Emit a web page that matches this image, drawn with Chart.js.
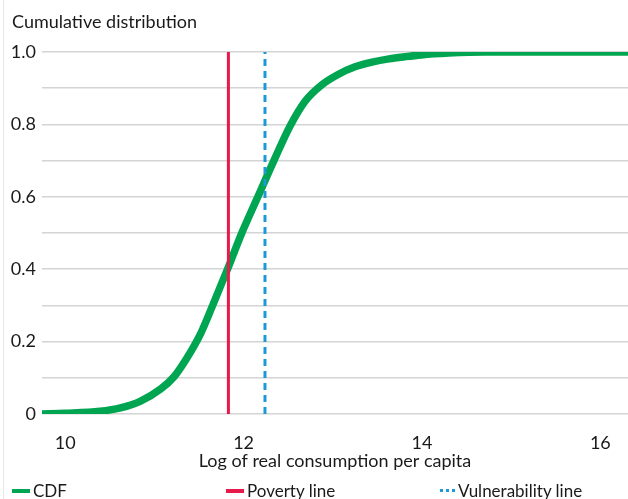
<!DOCTYPE html>
<html>
<head>
<meta charset="utf-8">
<script src="https://cdn.jsdelivr.net/npm/chart.js@4.4.0/dist/chart.umd.min.js"></script>
<style>
  html, body { margin: 0; padding: 0; background: #fff; }
  #wrap { position: relative; width: 628px; height: 499px; overflow: hidden; font-family: Lato, sans-serif; color: #1a1a1a; }
  #edge { position: absolute; left: 3px; top: 0; width: 1px; height: 499px; background: #e3ece3; }
  #title { position: absolute; left: 12px; top: 10px; font-size: 18px; }
  canvas { position: absolute; left: 0; top: 0; }
  .leg { position: absolute; top: 480px; font-size: 17px; display: flex; align-items: center; white-space: nowrap; }
  .mk { display: inline-block; height: 0; margin-right: 3px; }
</style>
</head>
<body>
<div id="wrap">
  <div id="edge"></div>
  <canvas id="c" width="628" height="499"></canvas>
  <div id="title">Cumulative distribution</div>
  <div id="legend"></div>
</div>
<script>
// ---- data ----
const cdfX = [9.74, 10.0, 10.39, 10.62, 10.84, 11.07, 11.22, 11.37, 11.52, 11.65, 11.82, 11.98, 12.16, 12.34, 12.52, 12.69, 12.88, 13.06, 13.25, 13.44, 13.63, 13.81, 13.99, 14.3, 14.7, 16.31];
const cdfY = [0.0, 0.002, 0.0075, 0.017, 0.035, 0.069, 0.103, 0.157, 0.223, 0.298, 0.40, 0.50, 0.60, 0.70, 0.795, 0.864, 0.91, 0.938, 0.959, 0.972, 0.981, 0.987, 0.992, 0.997, 1.0, 1.0];
const povertyLine = 11.83;
const vulnerabilityLine = 12.24;
const xTicks = [10, 12, 14, 16];
const yTickLabels = ['0', '0.2', '0.4', '0.6', '0.8', '1.0'];
const seriesLabels = ['CDF', 'Poverty line', 'Vulnerability line'];
const xTitle = 'Log of real consumption per capita';

const GREEN = '#00a551', RED = '#e8194b', BLUE = '#1b9ad7';
const FONT = 'Lato, sans-serif';

const cdfPts = cdfX.map((x, i) => ({ x, y: cdfY[i] }));

new Chart(document.getElementById('c'), {
  type: 'line',
  data: {
    datasets: [
      { label: seriesLabels[0], data: cdfPts, borderColor: GREEN, borderWidth: 7.5, pointRadius: 0,
        cubicInterpolationMode: 'monotone', borderCapStyle: 'round', order: 3 },
      { label: seriesLabels[1], data: [{ x: povertyLine, y: 0 }, { x: povertyLine, y: 1 }], borderColor: RED,
        borderWidth: 3, pointRadius: 0, order: 1 },
      { label: seriesLabels[2], data: [{ x: vulnerabilityLine, y: 0 }, { x: vulnerabilityLine, y: 1 }], borderColor: BLUE,
        borderWidth: 3, borderDash: [7, 5], pointRadius: 0, order: 2 }
    ]
  },
  options: {
    responsive: false,
    animation: false,
    layout: { padding: { top: 52, right: 0, left: 0, bottom: 27 } },
    plugins: { legend: { display: false }, tooltip: { enabled: false } },
    scales: {
      x: {
        type: 'linear', min: 9.74, max: 16.31,
        afterBuildTicks: (ax) => { ax.ticks = xTicks.map(v => ({ value: v })); },
        grid: { display: false },
        border: { display: false },
        ticks: { color: '#1a1a1a', font: { family: FONT, size: 18 }, padding: 10, maxRotation: 0 },
        title: { display: true, text: xTitle, color: '#1a1a1a', font: { family: FONT, size: 18 }, padding: { top: 0, bottom: 0 } },
        afterFit: (ax) => { ax.height = 58; }
      },
      y: {
        min: 0, max: 1,
        ticks: {
          stepSize: 0.1, color: '#1a1a1a', font: { family: FONT, size: 18 }, padding: 6,
          callback: (v, i) => (i % 2 === 0 ? yTickLabels[i / 2] : '')
        },
        grid: { color: '#d4d4d4', lineWidth: 1.5, drawTicks: false },
        border: { display: false },
        afterFit: (ax) => { ax.width = 42; }
      }
    }
  }
});

// HTML legend built from the series labels
const legPos = [12, 226, 440];
const legStyles = [
  'border-top: 4px solid ' + GREEN + ';width:18px',
  'border-top: 4px solid ' + RED + ';width:18px',
  'border-top: 3px dotted ' + BLUE + ';width:15px'
];
const legEl = document.getElementById('legend');
seriesLabels.forEach((lab, i) => {
  const d = document.createElement('div');
  d.className = 'leg';
  d.style.left = legPos[i] + 'px';
  const m = document.createElement('span');
  m.className = 'mk';
  m.style.cssText = legStyles[i];
  d.appendChild(m);
  d.appendChild(document.createTextNode(lab));
  legEl.appendChild(d);
});
</script>
</body>
</html>
